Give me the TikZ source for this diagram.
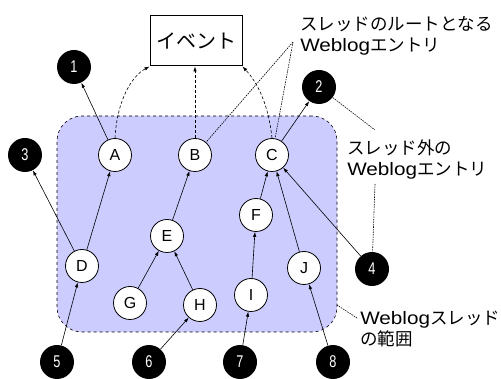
\documentclass[tikz,border=0pt]{standalone}
\usepackage{fontspec}
\setmainfont{Liberation Sans}
\newfontfamily\jpfont[Kerning=Off]{Noto Sans CJK JP}
\newfontfamily\numfont[FakeStretch=0.75]{Liberation Sans}
\newfontfamily\wlfont[FakeStretch=1.15]{Liberation Sans}
\newcommand{\wl}{{\wlfont\fontsize{18}{18}\selectfont Weblog}}
\usetikzlibrary{arrows.meta, calc}
\definecolor{clav}{HTML}{CCCCFF}
\tikzset{
  every picture/.style={line width=0.6pt},
  entry/.style={circle, draw, fill=white, minimum size=33pt, inner sep=0pt, line width=0.8pt, font=\fontsize{16}{16}\selectfont},
  ext/.style={circle, fill=black, text=white, minimum size=34pt, inner sep=0pt, font=\numfont\fontsize{17}{17}\selectfont},
  ref/.style={-{Latex[length=5pt,width=3.5pt]}},
  toevent/.style={ref, dash pattern=on 3pt off 2pt},
  note/.style={font=\jpfont\fontsize{17.5}{21}\selectfont, align=left, inner sep=0pt},
  pointer/.style={dash pattern=on 1.5pt off 1pt},
}

\begin{document}
\begin{tikzpicture}[x=1pt, y=-1pt]
  \useasboundingbox (0,0) rectangle (501,379);
  % thread area and event box
  \node[draw, dashed, fill=clav, rounded corners=25pt, minimum width=280pt, minimum height=216pt, line width=0.6pt] (area) at (197,224) {};
  \node[draw, line width=1pt, minimum width=92pt, minimum height=50pt, font=\jpfont\fontsize{20}{20}\selectfont] (ev) at (196,41) {イベント};
  % weblog entries inside the thread
  \foreach \n/\x/\y in {A/115/155, B/195/155, C/272/155, D/82/266, E/167/236, F/256/215, G/130/303, H/200/305, I/251/295, J/304/268}
    \node[entry] (\n) at (\x,\y) {\n};
  % entries outside the thread
  \foreach \i/\x/\y in {1/74/67, 2/319/87, 3/25/155, 4/372/269, 5/57/362, 6/149/362, 7/240/362, 8/333/362}
    \node[ext] (n\i) at (\x,\y) {\i};
  % references (child -> parent)
  \foreach \s/\t in {A/n1, C/n2, D/n3, D/A, E/B, G/E, H/E, n5/D, n6/H, F/C, I/F, n7/I, J/C, n8/J, n4/C}
    \draw[ref] (\s) -- (\t);
  % roots point at the event
  \draw[toevent] (A.north) .. controls (117,100) and (132,76) .. (ev.south west);
  \draw[toevent] (B.north) -- (B.north |- ev.south);
  \draw[toevent] (C.north) .. controls (268,100) and (255,80) .. (ev.south east);
  % notes
  \node[note, anchor=north west] (rootnote) at (300,16) {スレッドのルートとなる\\\wl エントリ};
  \node[note, anchor=north west] (outnote) at (347,139) {スレッド外の\\\wl エントリ};
  \node[note, anchor=north west] (areanote) at (360,311) {\wl スレッド\\の範囲};
  \coordinate (rootpt) at (293,42);
  \coordinate (outtop) at (375,130);
  \coordinate (outbot) at (375,184);
  \coordinate (areapt) at (357,318);
  \coordinate (areaedge) at (337,305);
  \draw[pointer] (rootpt) -- (B);
  \draw[pointer] (rootpt) -- (C);
  \draw[pointer] (n2) -- (outtop);
  \draw[pointer] (outbot) -- (n4);
  \draw[pointer] (areapt) -- (areaedge);
\end{tikzpicture}
\end{document}
